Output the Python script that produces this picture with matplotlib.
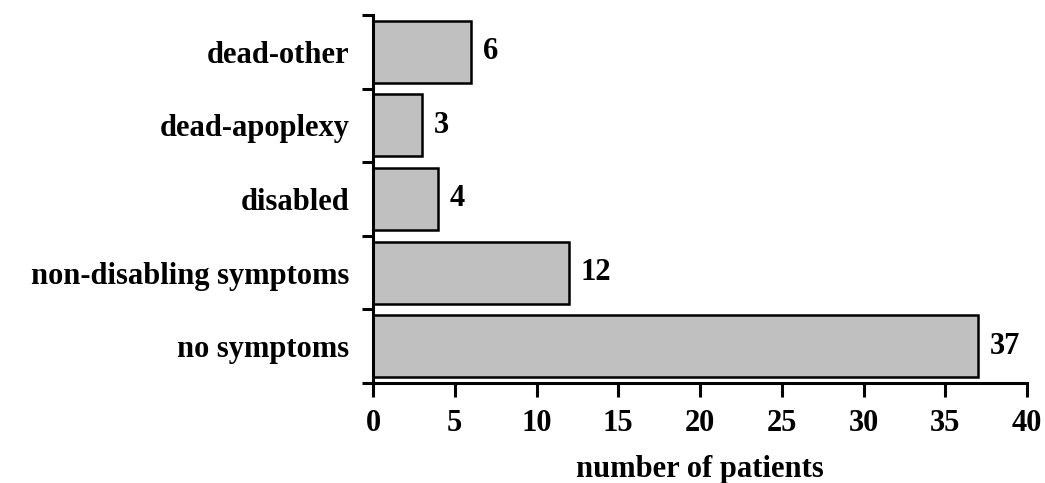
import numpy as np
import matplotlib
matplotlib.use('Agg')
import matplotlib.pyplot as plt

# ---------------------------------------------------
# DATOS
# ---------------------------------------------------
categories = ['no symptoms', 'non-disabling symptoms', 'disabled',
              'dead-apoplexy', 'dead-other']
patients = [37, 12, 4, 3, 6]
x_ticks = [0, 5, 10, 15, 20, 25, 30, 35, 40]
# ---------------------------------------------------

plt.rcParams['font.family'] = 'Liberation Serif'
plt.rcParams['font.weight'] = 'bold'
FONT_SIZE = 22


def main():
    fig = plt.figure(figsize=(10.45, 4.83), dpi=100)
    ax = fig.add_axes([0.357, 0.207, 0.6258, 0.762])

    y_pos = np.arange(len(categories))
    ax.barh(y_pos, patients, height=0.84, color='#c0c0c0',
            edgecolor='black', linewidth=1.8)

    for y, v in zip(y_pos, patients):
        ax.text(v + 0.7, y, str(v), va='center', ha='left',
                fontsize=FONT_SIZE, fontweight='bold')

    ax.set_xlim(0, 40)
    ax.set_ylim(-0.5, len(categories) - 0.5)

    ax.set_xticks(x_ticks)
    ax.set_xticklabels([str(t) for t in x_ticks], fontsize=FONT_SIZE,
                       fontweight='bold')

    # ticks en los bordes de categoria, etiquetas en el centro
    ax.set_yticks(np.arange(-0.5, len(categories), 1.0))
    ax.set_yticklabels([])
    ax.set_yticks(y_pos, minor=True)
    ax.set_yticklabels(categories, minor=True, fontsize=FONT_SIZE,
                       fontweight='bold')
    ax.tick_params(axis='y', which='minor', length=0, pad=17)
    ax.tick_params(axis='y', which='major', length=8, width=2.2,
                   direction='out')
    ax.tick_params(axis='x', which='major', length=10, width=2.2,
                   direction='out', pad=9)

    ax.spines['top'].set_visible(False)
    ax.spines['right'].set_visible(False)
    ax.spines['left'].set_linewidth(2.2)
    ax.spines['bottom'].set_linewidth(2.2)

    ax.set_xlabel('number of patients', fontsize=FONT_SIZE,
                  fontweight='bold', labelpad=12)

    fig.savefig('out.png', dpi=100)


if __name__ == '__main__':
    main()
